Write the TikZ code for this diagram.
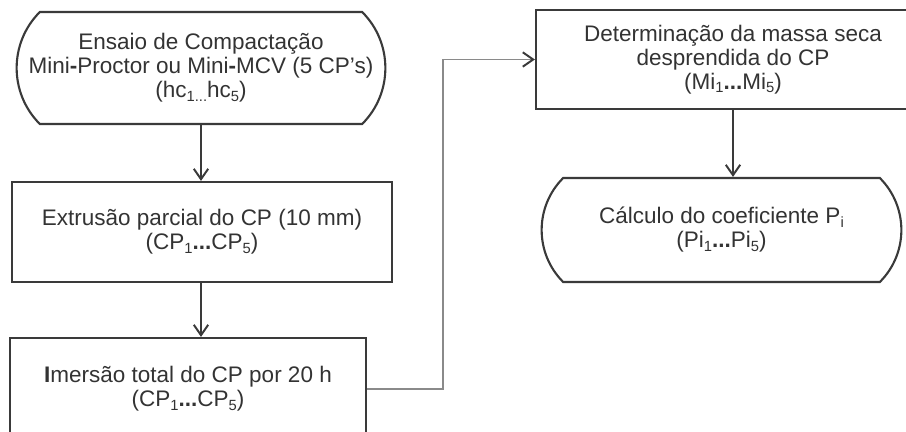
\documentclass[tikz,border=0pt]{standalone}
\usepackage{fontspec}
\setmainfont{Liberation Sans}
\usepackage{xcolor}
\usepackage{tikz}
\usetikzlibrary{positioning, shapes.misc, arrows.meta}

\definecolor{linha}{HTML}{3A3A3A}
\definecolor{texto}{HTML}{333333}
\definecolor{liga}{HTML}{8A8A8A}
\newcommand{\idx}[1]{\raisebox{-0.3ex}{\fontsize{10.5}{10.5}\selectfont #1}}

\begin{document}
\begin{tikzpicture}[x=0.025cm, y=-0.025cm]
					\tikzstyle{caixa}=[rectangle, draw=linha, line width=1.5pt, text=texto, align=center,
						font=\fontsize{16}{17.1}\selectfont]
					\tikzstyle{terminal}=[caixa, rounded rectangle, rounded rectangle arc length=90]
					\tikzstyle{seta}=[draw=linha, line width=1.4pt, -{Straight Barb[length=2.6mm, width=3.6mm]}]
					\useasboundingbox (0,0) rectangle (906,432);
					\clip (0,0) rectangle (906,432);
					\node[terminal, minimum width=9.45cm, minimum height=2.8cm](ensaio) at (201,68)
						{Ensaio de Compactação\\Mini\textbf{-}Proctor ou Mini\textbf{-}MCV (5 CP’s)\\(hc\idx{1...}hc\idx{5})};
					\node[caixa, minimum width=9.5cm, minimum height=2.5cm](extrusao) at (202,232)
						{Extrusão parcial do CP (10 mm)\\(CP\idx{1}\textbf{...}CP\idx{5})};
					\node[caixa, minimum width=8.9cm, minimum height=2.55cm](imersao) at (188,389)
						{\textbf{I}mersão total do CP por 20 h\\(CP\idx{1}\textbf{...}CP\idx{5})};
					\node[caixa, minimum width=9.85cm, minimum height=2.475cm](massa) at (733,59.5)
						{Determinação da massa seca\\desprendida do CP\\(Mi\idx{1}\textbf{...}Mi\idx{5})};
					\node[terminal, minimum width=9.225cm, minimum height=2.6cm](calculo) at (721.5,230)
						{Cálculo do coeficiente P\idx{i}\\(Pi\idx{1}\textbf{...}Pi\idx{5})};
					\coordinate (desvio) at (443,389);
					\path[-]
						(ensaio.south) edge[seta] node {}(ensaio.south |- extrusao.north)
						(ensaio.south |- extrusao.south) edge[seta] node {}(ensaio.south |- imersao.north)
						(massa.south) edge[seta] node {}(massa.south |- calculo.north);
					\draw[liga, line width=0.8pt, -{Straight Barb[length=2.6mm, width=3.6mm, color=linha, line width=1.4pt]}]
						(imersao.east) -- (desvio) |- (massa.west);
				\end{tikzpicture}
\end{document}
